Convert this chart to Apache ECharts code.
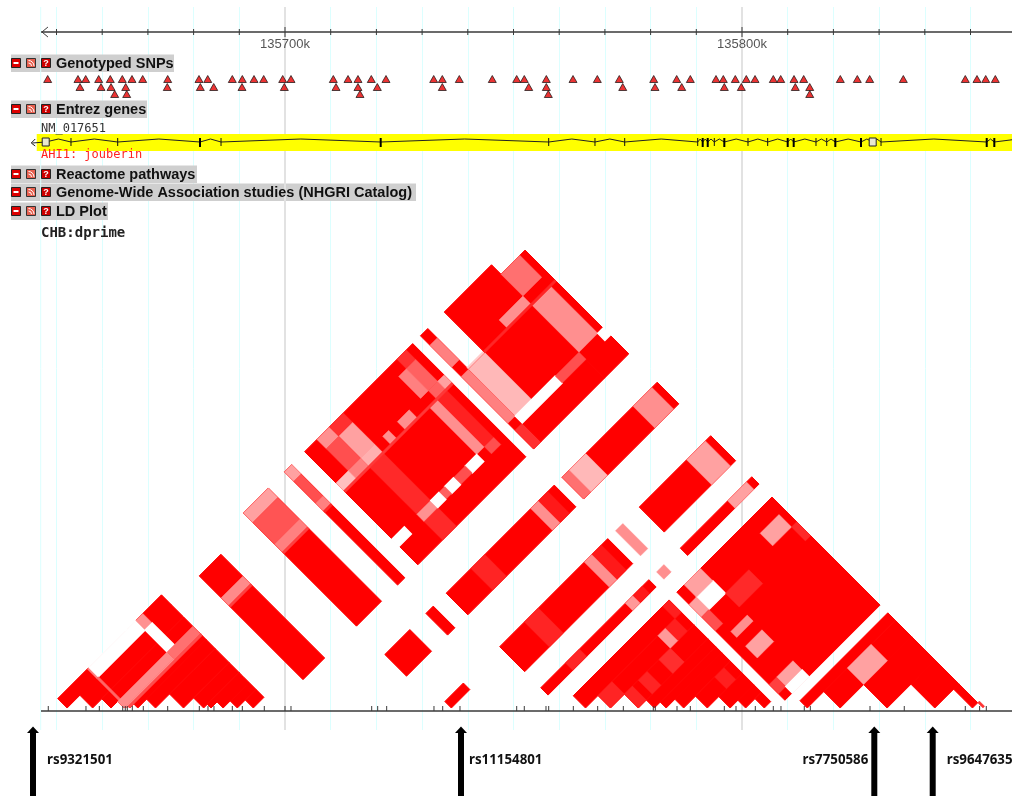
<!DOCTYPE html>
<html><head><meta charset="utf-8">
<style>html,body{margin:0;padding:0;background:#fff}#c{width:1012px;height:796px}</style>
<script src="https://cdn.jsdelivr.net/npm/echarts@6/dist/echarts.min.js"></script>
</head><body><div id="c"></div>
<script>
// ---- data (genomic positions in kb on the chromosome) ----
const markersKb = [135648.2,135656.45,135659.37,135664.49,135665.05,135665.49,135666.59,135668.99,135674.33,135681.25,135683.15,135684.46,135688.47,135690.66,135695.47,135700,135701.31,135718.97,135720.28,135722.25,135732.6,135734.51,135738.29,135750.7,135752.36,135757.11,135757.7,135763.09,135768.42,135774.03,135780.59,135781.03,135785.78,135788.69,135796.13,135798.69,135802.91,135806.85,135808.53,135813.63,135814.95,135828.01,135835.51,135848.86,135852.0,135853.46];
const snpRow1 = [135648.07,135654.7,135656.39,135659.23,135661.77,135664.4,135666.52,135668.86,135674.33,135681.18,135683.09,135688.47,135690.66,135693.22,135695.34,135699.5,135701.31,135710.57,135713.79,135715.97,135718.88,135722.1,135732.54,135734.42,135738.14,135745.36,135750.7,135752.36,135757.18,135763.02,135768.34,135773.15,135780.68,135785.71,135788.69,135794.31,135795.91,135798.53,135800.94,135802.85,135806.85,135808.47,135811.38,135813.5,135821.51,135825.23,135827.94,135835.3,135848.86,135851.42,135853.33,135855.43];
const snpRow2 = [135655.14,135659.74,135661.93,135665.14,135674.24,135681.47,135684.4,135690.59,135699.85,135711.16,135715.97,135720.2,135734.42,135753.33,135757.18,135773.9,135780.96,135786.81,135796.13,135799.85,135811.66,135814.82];
const snpRow3 = [135662.73,135665.36,135716.41,135757.62,135814.82];
const exonsThin = [135653.17,135663.39,135686,135757.7,135767.83,135774.33,135790.31,135793.94,135801.31,135805.62,135816.19,135818.54,135830.42];
const exonsThick = [135681.4,135720.94,135791.4,135792.5,135796.13,135810,135811.31,135820.42,135826.04,135853.55,135855.21];
const exonBoxes = [135647.64,135828.6];
const geneSpan = [135646,135859.1];
const rulerSpan = [135646.6,135859.1];
const majorTicks = [135700,135800];
const minorTicks = [135650,135660,135670,135680,135690,135710,135720,135730,135740,135750,135760,135770,135780,135790,135810,135820,135830,135840,135850];
const regionStart = 135646.54;
const arrowSnps = [['rs9321501',135644.86,'right',14],['rs11154801',135738.51,'right',8],['rs7750586',135828.95,'left',6],['rs9647635',135841.73,'right',14]];
// stair-shaped LD triangles: first and last SNP boundary
const ldTriangles = [[0,15],[27,38],[39,45]];
// LD runs: [snpA from, snpA to, snpB from, snpB to, D' shade]
const ldRuns = [
 [44,45,45,46,.8],
 [0,1,5,6,.5],[0,1,6,12,0],[0,1,12,13,.43],
 [1,3,5,6,.6],[1,3,12,13,0],
 [3,4,4,12,.45],[4,5,5,12,.45],[3,5,12,15,.56],[5,6,6,15,.7],
 [1,15,17,18,1],[3,5,17,18,.46],[5,6,17,18,.75],
 [0,15,21,23,1],[0,1,21,23,.37],[1,3,21,23,.67],[3,5,21,23,.5],[5,6,21,23,.75],
 [0,15,24,25,1],[0,1,24,25,.37],[1,3,24,25,.69],[3,5,24,25,.5],[5,6,24,25,.85],
 [0,15,27,38,1],
 [0,1,36,37,.81],[1,3,36,37,.62],[1,3,35,36,.5],[3,5,36,37,.62],[3,5,37,38,.37],
 [6,12,35,36,.44],[6,12,36,37,.87],[12,13,36,37,.69],
 [0,1,28,29,.43],[0,1,29,30,.81],[1,3,29,30,.37],[3,5,29,30,.31],[1,3,28,29,.69],[3,5,28,29,.5],[3,5,27,28,.25],
 [6,12,29,30,.84],[13,15,29,30,.84],[12,13,29,30,.43],
 [3,5,33,34,.44],[3,5,31,32,.44],
 [12,13,34,35,0],[12,13,33,34,.69],[12,13,32,33,0],[12,13,31,32,.62],[12,13,30,31,0],[12,13,27,28,0],
 [5,6,27,38,.78],
 [0,15,39,40,1],[1,3,39,40,.5],[6,12,39,40,.5],[13,15,39,40,.81],
 [5,6,40,41,.2],[6,15,40,43,1],[0,6,41,43,1],[1,15,43,45,1],
 [6,12,40,41,.28],[12,13,40,42,0],[12,13,42,43,.69],
 [1,3,43,44,.56],[3,5,42,43,.44],[6,12,43,44,.44],[12,13,44,45,0],[5,6,41,45,.85],
 [17,18,21,23,1],[17,18,24,25,1],
 [17,18,27,38,1],[17,18,35,36,.44],[17,18,36,37,.9],[17,18,29,30,.86],
 [17,18,39,45,1],[17,18,39,40,.56],[17,18,40,41,.28],[17,18,43,44,.44],
 [21,22,22,23,1],
 [21,23,27,38,1],[21,23,35,36,.44],[21,23,36,37,.9],[21,23,29,30,.86],
 [21,23,39,40,.44],[21,23,41,45,1],[21,23,43,44,.37],
 [24,25,27,38,1],[24,25,35,36,.4],[24,25,36,37,.9],[24,25,29,30,.85],
 [24,25,39,40,.44],[24,25,41,45,1],[24,25,43,44,.37],
 [28,29,29,30,.86],[29,30,30,31,.86],[29,30,32,33,.86],[29,30,34,35,.82],[28,29,35,36,.4],[28,29,36,37,.88],[27,28,37,38,.88],[33,34,36,37,.88],
 [27,38,39,45,1],[28,29,40,41,0],[27,28,40,41,.37],[28,29,39,40,.37],[29,30,39,40,.69],[29,30,41,42,.84],
 [31,32,40,41,.44],[33,34,40,41,.37],[36,37,40,41,.37],[36,37,39,40,.75],[37,38,40,41,0],[28,29,43,44,.37],[29,30,44,45,.84],
 [40,41,42,43,.37]
];
const trackRows = {ruler:32, snp:[79,87,94], gene:142, ldAxis:711};

// ---- derived from the data ----
const bounds = [markersKb[0]];
for (let i=1;i<markersKb.length;i++) bounds.push((markersKb[i-1]+markersKb[i])/2);
bounds.push(markersKb[markersKb.length-1]);
const runs = [];
ldTriangles.forEach(t=>{ for(let k=t[0];k<=t[1]-2;k++) runs.push([k,k+1,k+1,t[1],1]); });
ldRuns.forEach(r=>runs.push(r));
const ldData = runs.map(r=>[bounds[r[0]],bounds[r[1]],bounds[r[2]],bounds[r[3]],r[4]]);
const shade = d=>{const v=Math.round(255*(1-d));return 'rgb(255,'+v+','+v+')';};
const snpData = [].concat(
  snpRow1.map(x=>[x,trackRows.snp[0]]),snpRow2.map(x=>[x,trackRows.snp[1]]),snpRow3.map(x=>[x,trackRows.snp[2]]));
const vline=(api,x,y0,y1,st)=>{const a=api.coord([x,y0]),b=api.coord([x,y1]);return {type:'line',shape:{x1:a[0],y1:a[1],x2:b[0],y2:b[1]},style:st};};
const AXIS='#3a3a3a';

const series = [
 // 100 kb lines
 {type:'custom',xAxisIndex:0,yAxisIndex:1,data:majorTicks.map(x=>[x]),silent:true,z:1,
  renderItem:(p,api)=>vline(api,api.value(0),7,730,{stroke:'#e2e2e2',lineWidth:2})},
 {type:'custom',xAxisIndex:0,yAxisIndex:1,data:[[regionStart]],silent:true,z:1,
  renderItem:(p,api)=>vline(api,api.value(0),7,730,{stroke:'#dcffff',lineWidth:1})},
 // horizontal rulers
 {type:'custom',xAxisIndex:0,yAxisIndex:1,data:[[trackRows.ruler],[trackRows.ldAxis]],silent:true,z:3,
  renderItem:(p,api)=>{const a=api.coord([rulerSpan[0],api.value(0)]),b=api.coord([rulerSpan[1],api.value(0)]);
   return {type:'line',shape:{x1:a[0],y1:a[1],x2:b[0],y2:b[1]},style:{stroke:AXIS,lineWidth:1.3}};}},
 {type:'custom',xAxisIndex:0,yAxisIndex:1,data:minorTicks.map(x=>[x,3]).concat(majorTicks.map(x=>[x,5])),silent:true,z:3,
  renderItem:(p,api)=>{const r=api.value(1),y=trackRows.ruler;return vline(api,api.value(0),y-r,y+r,{stroke:AXIS,lineWidth:1});}},
 {type:'custom',xAxisIndex:0,yAxisIndex:1,data:[[rulerSpan[0],trackRows.ruler]],silent:true,z:3,
  renderItem:(p,api)=>{const c=api.coord([api.value(0),api.value(1)]);
   return {type:'polyline',shape:{points:[[c[0]+7,c[1]-5],[c[0]+1,c[1]],[c[0]+7,c[1]+5]]},style:{stroke:AXIS,fill:'none',lineWidth:1}};}},
 // 100 kb labels
 {type:'custom',xAxisIndex:0,yAxisIndex:1,data:majorTicks.map(x=>[x]),silent:true,z:6,
  renderItem:(p,api)=>{const c=api.coord([api.value(0),44]);
   return {type:'text',style:{text:api.value(0)+'k',x:c[0],y:c[1],align:'center',verticalAlign:'middle',font:'13px "Liberation Sans"',fill:'#555'}};}},
 // SNP triangles
 {type:'scatter',xAxisIndex:0,yAxisIndex:1,data:snpData,symbol:'triangle',symbolSize:[8,7],clip:false,silent:true,z:4,
  itemStyle:{color:'#e60000',borderColor:'#111',borderWidth:0.9}},
 // gene band
 {type:'custom',xAxisIndex:0,yAxisIndex:1,data:[geneSpan],silent:true,z:3,clip:false,
  renderItem:(p,api)=>{
   const y=trackRows.gene,a=api.coord([geneSpan[0],y]),b=api.coord([geneSpan[1],y]);
   const kids=[{type:'rect',shape:{x:a[0]-1.5,y:y-8,width:b[0]-a[0]+1.5,height:17},style:{fill:'#ffff00'}}];
   const ex=[].concat(exonBoxes,exonsThin,exonsThick).sort((u,v)=>u-v);
   const pts=[[a[0]-6,y+1]];
   ex.forEach((e,i)=>{const c=api.coord([e,y]);
     pts.push([c[0],y]);
     const nx=i<ex.length-1?api.coord([ex[i+1],y])[0]:b[0]+30;
     pts.push([(c[0]+nx)/2,y-3]);});
   kids.push({type:'polyline',shape:{points:pts},style:{stroke:'#222',fill:'none',lineWidth:1}});
   kids.push({type:'polyline',shape:{points:[[a[0]-3,y-3],[a[0]-7,y+1],[a[0]-3,y+4]]},style:{stroke:'#222',fill:'none',lineWidth:1}});
   exonsThin.forEach(e=>{const c=api.coord([e,y]);kids.push({type:'line',shape:{x1:c[0],y1:y-4,x2:c[0],y2:y+4},style:{stroke:'#111',lineWidth:1}});});
   exonsThick.forEach(e=>{const c=api.coord([e,y]);kids.push({type:'line',shape:{x1:c[0],y1:y-4,x2:c[0],y2:y+5},style:{stroke:'#000',lineWidth:2}});});
   exonBoxes.forEach(e=>{const c=api.coord([e,y]);kids.push({type:'rect',shape:{x:c[0]-3.5,y:y-4,width:7,height:8},style:{fill:'#e8e8d0',stroke:'#222',lineWidth:1}});});
   return {type:'group',children:kids};}},
 // LD cells
 {type:'custom',xAxisIndex:0,yAxisIndex:0,data:ldData,silent:true,z:2,
  renderItem:(p,api)=>{
   const a1=api.value(0),a2=api.value(1),b1=api.value(2),b2=api.value(3),d=api.value(4);
   const pt=(a,b)=>api.coord([(a+b)/2,(b-a)/2]);
   const col=shade(d);
   const w=d===1?1:(d===0?1.4:0.5);
   return {type:'polygon',shape:{points:[pt(a1,b1),pt(a1,b2),pt(a2,b2),pt(a2,b1)]},style:{fill:col,stroke:col,lineWidth:w}};}},
 // LD marker ticks
 {type:'custom',xAxisIndex:0,yAxisIndex:1,data:markersKb.map(x=>[x]),silent:true,z:3,
  renderItem:(p,api)=>vline(api,api.value(0),706,trackRows.ldAxis,{stroke:AXIS,lineWidth:1})},
 // arrows for highlighted SNPs
 {type:'custom',xAxisIndex:0,yAxisIndex:1,data:arrowSnps.map((s,i)=>[s[1],i]),silent:true,z:5,
  renderItem:(p,api)=>{
   const s=arrowSnps[api.value(1)],c=api.coord([api.value(0),727]),x=c[0];
   const right=s[2]==='right';
   return {type:'group',children:[
    {type:'rect',shape:{x:x-3,y:731,width:6,height:65},style:{fill:'#000'}},
    {type:'polygon',shape:{points:[[x-6,733],[x,726.5],[x+6,733]]},style:{fill:'#000'}},
    {type:'text',style:{text:s[0],x:right?x+s[3]:x-s[3],y:760,align:right?'left':'right',verticalAlign:'middle',
      font:'bold 13.3px "Noto Sans"',fill:'#111'}}]};}}
];

// track headers
const headers=[['Genotyped SNPs',63,163],['Entrez genes',109,136],['Reactome pathways',174,186],['Genome-Wide Association studies (NHGRI Catalog)',192,405],['LD Plot',211,97]];
const graphic=[];
headers.forEach(h=>{
 const y=h[1];
 graphic.push({type:'rect',shape:{x:11,y:y-8.5,width:h[2],height:17.5},style:{fill:'#cfcfcf'},z:1});
 graphic.push({type:'rect',shape:{x:11.5,y:y-4.5,width:9,height:9},style:{fill:'#dd0000',stroke:'#222',lineWidth:1},z:2});
 graphic.push({type:'rect',shape:{x:13.5,y:y-1,width:5,height:2},style:{fill:'#fff'},z:3});
 graphic.push({type:'rect',shape:{x:26.5,y:y-4.5,width:9,height:9},style:{fill:'#e8604f',stroke:'#333',lineWidth:1},z:2});
 graphic.push({type:'arc',shape:{cx:28.5,cy:y+3,r:3,startAngle:-Math.PI/2,endAngle:0},style:{stroke:'#fff',fill:'none',lineWidth:1},z:3});
 graphic.push({type:'arc',shape:{cx:28.5,cy:y+3,r:5.5,startAngle:-Math.PI/2,endAngle:0},style:{stroke:'#fff',fill:'none',lineWidth:1},z:3});
 graphic.push({type:'rect',shape:{x:41.5,y:y-4.5,width:9,height:9},style:{fill:'#cc0000',stroke:'#222',lineWidth:1},z:2});
 graphic.push({type:'text',style:{text:'?',x:46,y:y+0.5,align:'center',verticalAlign:'middle',font:'bold 9px "Liberation Sans"',fill:'#fff'},z:3});
 graphic.push({type:'text',style:{text:h[0],x:56,y:y+0.5,verticalAlign:'middle',font:'bold 14.5px "Liberation Sans"',fill:'#111'},z:3});
});
graphic.push({type:'text',style:{text:'NM_017651',x:41,y:129,verticalAlign:'middle',font:'12px "DejaVu Sans Mono"',fill:'#333'},z:5});
graphic.push({type:'text',style:{text:'AHI1: jouberin',x:41,y:155,verticalAlign:'middle',font:'12px "DejaVu Sans Mono"',fill:'#ff2020'},z:5});
graphic.push({type:'text',style:{text:'CHB:dprime',x:41,y:233,verticalAlign:'middle',font:'bold 14px "DejaVu Sans Mono"',fill:'#222'},z:5});

const chart=echarts.init(document.getElementById('c'),null,{renderer:'canvas'});
chart.setOption({
 animation:false,backgroundColor:'#fff',
 grid:{left:10.8,right:41.5,top:7,bottom:66,containLabel:false},
 xAxis:[{type:'value',position:'top',min:135640,max:135850,interval:10,
   axisLine:{show:false},axisTick:{show:false},axisLabel:{show:false},
   splitLine:{show:true,showMinLine:false,showMaxLine:true,lineStyle:{color:'#dcffff',width:1}}}],
 yAxis:[{type:'value',min:-4.81,max:153.39,show:false,splitLine:{show:false}},
        {type:'value',min:7,max:730,inverse:true,show:false,splitLine:{show:false}}],
 series:series,graphic:graphic,tooltip:{show:false},legend:{show:false}
});
</script></body></html>
